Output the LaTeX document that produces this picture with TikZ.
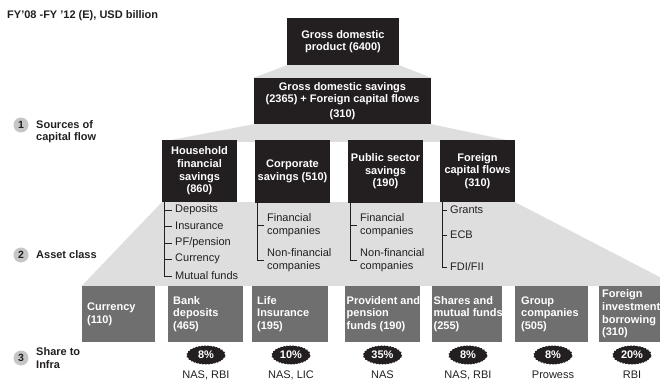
\documentclass[tikz,border=0pt]{standalone}
\usepackage{fontspec}
\setmainfont{Liberation Sans}
\usetikzlibrary{decorations.pathmorphing,shapes.geometric}
\definecolor{dk}{HTML}{231F20}
\definecolor{ag}{HTML}{6F6F6F}
\definecolor{lg}{HTML}{DEDEDE}
\definecolor{cg}{HTML}{C6C6C6}
\newcommand\basefs{\fontsize{11}{12.6}\selectfont}
\pgfdeclarelayer{bg}
\pgfsetlayers{bg,main}
\tikzset{
  dbox/.style={fill=dk, text=white, font=\basefs\bfseries, align=center, inner sep=0pt, minimum width=75, minimum height=62},
  abox/.style={fill=ag, inner sep=0pt, minimum height=56},
  atext/.style={anchor=west, text=white, font=\basefs\bfseries, align=left, inner sep=0pt},
  item/.style={anchor=west, text=dk, font=\basefs, align=left, inner xsep=3pt, inner ysep=0pt},
  treeline/.style={draw=dk, line width=0.9pt},
  blob/.style={ellipse, fill=dk, text=white, font=\basefs\bfseries, inner sep=0pt, minimum width=38, minimum height=19,
    decorate, decoration={bumps, segment length=6pt, amplitude=0.7pt}},
  src/.style={text=dk, font=\basefs, inner sep=0pt},
  numc/.style={circle, fill=cg, minimum size=15, inner sep=0pt, text=dk, font=\bfseries\fontsize{10.5}{10.5}\selectfont},
  lefttxt/.style={anchor=west, text=dk, font=\basefs\bfseries, align=left, inner sep=0pt}
}
\begin{document}
\begin{tikzpicture}[x=1pt, y=-1pt, font=\basefs]
\useasboundingbox (0,0) rectangle (660,382);

% title
\node[lefttxt] (title) at (7,16) {FY'08 -FY '12 (E), USD billion};

% top boxes
\node[dbox, minimum width=112, minimum height=47] (gdp) at (343,41.5) {Gross domestic\\product (6400)};
\node[dbox, minimum width=177, minimum height=46] (gds) at (342.5,101) {Gross domestic savings\\(2365) + Foreign capital flows\\[2pt](310)};

% level 1 boxes
\node[dbox] (hh) at (199.5,171) {Household\\financial\\savings\\(860)};
\node[dbox] (corp) at (292.5,171.5) {Corporate\\savings (510)};
\node[dbox] (pub) at (385.5,171.5) {Public sector\\savings\\(190)};
\node[dbox] (fcf) at (477.5,171) {Foreign\\capital flows\\(310)};

% asset boxes
\node[abox, minimum width=73] (a1) at (118.5,314) {};
\node[abox, minimum width=75] (a2) at (205.5,314) {};
\node[abox, minimum width=76] (a3) at (290,314) {};
\node[abox, minimum width=75] (a4) at (382.5,314) {};
\node[abox, minimum width=70] (a5) at (467,314) {};
\node[abox, minimum width=73] (a6) at (551.5,314) {};
\node[abox, minimum width=69] (a7) at (633.5,314) {};

\node[atext] (t1) at (87,314) {Currency\\(110)};
\node[atext] (t2) at (173,314) {Bank\\deposits\\(465)};
\node[atext] (t3) at (257,314) {Life\\Insurance\\(195)};
\node[atext] (t4) at (346.5,314) {Provident and\\pension\\funds (190)};
\node[atext] (t5) at (433.5,314) {Shares and\\mutual funds\\(255)};
\node[atext] (t6) at (521,314) {Group\\companies\\(505)};
\node[atext] (t7) at (602,314) {Foreign\\investment,\\borrowing\\(310)};

% grey funnels
\begin{pgfonlayer}{bg}
\fill[lg] (gdp.south west) -- (gdp.south east) -- (gds.north east) -- (gds.north west) -- cycle;
\fill[lg] (gds.south west) -- (gds.south east) -- ([yshift=-2pt]fcf.north east) -- ([yshift=-2pt]hh.north west) -- cycle;
\fill[lg] (hh.south west) -- (fcf.south east) -- (677,286) -- (a1.north west) -- cycle;
\end{pgfonlayer}

% household tree
\node[item] (h1) at (172,210) {Deposits};
\node[item] (h2) at (172,226) {Insurance};
\node[item] (h3) at (172,243) {PF/pension};
\node[item] (h4) at (172,259) {Currency};
\node[item] (h5) at (172,276) {Mutual funds};
\foreach \n in {h1,h2,h3,h4,h5}
  \draw[treeline] ([xshift=2.5pt]hh.south west) |- (\n.west);

% corporate tree
\node[item] (c1) at (264,225) {Financial\\companies};
\node[item] (c2) at (264,260) {Non-financial\\companies};
\foreach \n in {c1,c2}
  \draw[treeline] ([xshift=2.5pt]corp.south west) |- (\n.west);

% public tree
\node[item] (p1) at (357,225) {Financial\\companies};
\node[item] (p2) at (357,260) {Non-financial\\companies};
\foreach \n in {p1,p2}
  \draw[treeline] ([xshift=3pt]pub.south west) |- (\n.west);

% foreign tree
\node[item] (f1) at (447,210) {Grants};
\node[item] (f2) at (447,235) {ECB};
\node[item] (f3) at (447,267) {FDI/FII};
\foreach \n in {f1,f2,f3}
  \draw[treeline] ([xshift=3pt]fcf.south west) |- (\n.west);

% blobs
\node[blob] (b2) at (206,355) {8\%};
\node[blob] (b3) at (291,355) {10\%};
\node[blob] (b4) at (382.5,355) {35\%};
\node[blob] (b5) at (468,355) {8\%};
\node[blob] (b6) at (553,355) {8\%};
\node[blob] (b7) at (632,355) {20\%};

% sources
\node[src] (s2) at (206,375) {NAS, RBI};
\node[src] (s3) at (291,375) {NAS, LIC};
\node[src] (s4) at (382.5,375) {NAS};
\node[src] (s5) at (468,375) {NAS, RBI};
\node[src] (s6) at (553,375) {Prowess};
\node[src] (s7) at (632,375) {RBI};

% left labels
\node[numc] (n1) at (21,125) {1};
\node[lefttxt] (l1) at (36,131.5) {Sources of\\capital flow};
\node[numc] (n2) at (21,255) {2};
\node[lefttxt] (l2) at (36,255) {Asset class};
\node[numc] (n3) at (21,358) {3};
\node[lefttxt] (l3) at (36,358) {Share to\\Infra};
\end{tikzpicture}
\end{document}
